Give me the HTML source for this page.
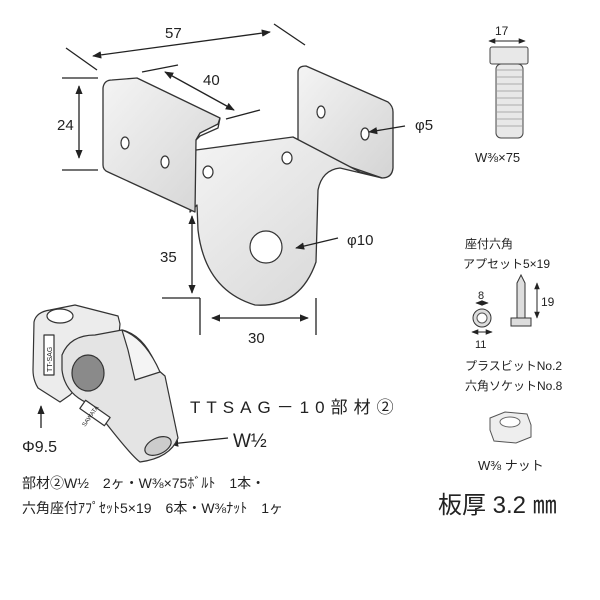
<!DOCTYPE html>
<html><head><meta charset="utf-8"><style>
html,body{margin:0;padding:0;background:#fff;}
svg{display:block}
text{font-family:"Liberation Sans","Noto Sans CJK JP",sans-serif;fill:#222}
</style></head><body>
<svg width="600" height="600" viewBox="0 0 600 600" xmlns="http://www.w3.org/2000/svg">
<defs>
<marker id="a" viewBox="0 0 10 10" refX="9" refY="5" markerWidth="7" markerHeight="7" orient="auto-start-reverse"><path d="M0,1 L10,5 L0,9 z" fill="#222"/></marker>
<linearGradient id="g" x1="0" y1="0" x2="1" y2="1"><stop offset="0" stop-color="#f4f4f4"/><stop offset="1" stop-color="#d4d4d4"/></linearGradient>
</defs>
<g stroke="#333" stroke-width="1.3" fill="url(#g)" stroke-linejoin="round">
<!-- right flange -->
<path d="M298,72 Q298,66 306,66 L388,102 Q393,106 393,112 L393,168 Q392,178 382,178 L330,160 L298,140 Z"/>
<!-- web + tab -->
<path d="M196,150 L293,137 L360,172 L382,178 L340,168 Q322,170 318,190 L316,262 Q300,308 255,305 Q205,290 198,230 L197,205 L190,212 Z"/>
<!-- left plate -->
<path d="M103,88 Q104,80 112,80 L137,78 L220,118 L218,124 L200,133 L196,140 L195,212 L108,172 Q103,170 103,165 Z"/>
<path d="M220,118 L218,128 L200,136 L196,140" fill="none"/>
</g>
<g fill="#fff" stroke="#333" stroke-width="1.2">
<ellipse cx="125" cy="143" rx="4" ry="6"/><ellipse cx="165" cy="162" rx="4" ry="6"/>
<ellipse cx="208" cy="172" rx="5" ry="6"/><ellipse cx="287" cy="158" rx="5" ry="6"/>
<ellipse cx="321" cy="112" rx="4" ry="6"/><ellipse cx="365" cy="134" rx="4" ry="6"/>
<circle cx="266" cy="247" r="16"/>
</g>
<!-- dimensions -->
<g stroke="#222" stroke-width="1.3" fill="none">
<line x1="93" y1="56" x2="270" y2="32" marker-start="url(#a)" marker-end="url(#a)"/>
<line x1="66" y1="48" x2="97" y2="70"/><line x1="274" y1="24" x2="305" y2="45"/>
<line x1="79" y1="86" x2="79" y2="158" marker-start="url(#a)" marker-end="url(#a)"/>
<line x1="62" y1="78" x2="98" y2="78"/><line x1="62" y1="170" x2="98" y2="170"/>
<line x1="165" y1="72" x2="234" y2="110" marker-start="url(#a)" marker-end="url(#a)"/>
<line x1="142" y1="72" x2="178" y2="65"/><line x1="226" y1="119" x2="260" y2="110"/>
<line x1="192" y1="216" x2="192" y2="293" marker-start="url(#a)" marker-end="url(#a)"/>
<line x1="162" y1="298" x2="200" y2="298"/>
<line x1="212" y1="318" x2="308" y2="318" marker-start="url(#a)" marker-end="url(#a)"/>
<line x1="200" y1="298" x2="200" y2="335"/><line x1="316" y1="298" x2="316" y2="335"/>
<line x1="338" y1="238" x2="296" y2="248" marker-end="url(#a)"/>
<line x1="405" y1="126" x2="369" y2="132" marker-end="url(#a)"/>
<line x1="41" y1="428" x2="41" y2="406" marker-end="url(#a)"/>
<line x1="228" y1="438" x2="170" y2="444" marker-end="url(#a)"/>
</g>
<g font-size="15">
<text x="165" y="38">57</text><text x="57" y="130">24</text><text x="203" y="85">40</text>
<text x="160" y="262">35</text><text x="248" y="343">30</text>
<text x="347" y="245">φ10</text><text x="415" y="130">φ5</text>
</g>
<!-- connector -->
<g stroke="#333" stroke-width="1.2" stroke-linejoin="round">
<path d="M34,322 Q36,312 50,310 L75,305 L118,316 L120,324 L118,345 L70,395 L60,402 L38,388 Q33,380 33,370 Z" fill="#ececec"/>
<ellipse cx="60" cy="316" rx="13" ry="7" fill="#fff"/>
<path d="M62,355 Q70,335 95,335 L122,330 Q145,335 158,370 L165,376 L178,438 Q170,458 140,462 Q130,455 92,405 Q65,395 62,370 Z" fill="#e4e4e4"/>
<path d="M122,330 Q145,338 160,372 L135,380 L128,350 Z" fill="#f4f4f4"/>
<ellipse cx="88" cy="373" rx="16" ry="18" fill="#8a8a8a"/>
<ellipse cx="158" cy="446" rx="14" ry="8" fill="#ccc" transform="rotate(-25 158 446)"/>
<rect x="44" y="335" width="10" height="40" fill="#fff"/>
<rect x="90" y="398" width="10" height="30" fill="#fff" transform="rotate(-55 95 413)"/>
</g>
<text x="0" y="0" font-size="7" transform="translate(52,372) rotate(-90)">TT-SAG</text>
<text x="0" y="0" font-size="6" transform="translate(85,427) rotate(-55)">SAWATA</text>
<text x="190" y="413" font-size="17" letter-spacing="6">TTSAG－10部材②</text>
<text x="233" y="447" font-size="19">W½</text>
<text x="22" y="452" font-size="16">Φ9.5</text>
<text x="22" y="488" font-size="14">部材②W½　2ヶ・W⅜×75ﾎﾞﾙﾄ　1本・</text>
<text x="22" y="513" font-size="14">六角座付ｱﾌﾟｾｯﾄ5×19　6本・W⅜ﾅｯﾄ　1ヶ</text>
<!-- bolt -->
<g stroke="#444" stroke-width="1" fill="#e8e8e8">
<rect x="490" y="47" width="38" height="17" rx="2"/>
<rect x="496" y="64" width="27" height="74" rx="5"/>
</g>
<g stroke="#999" stroke-width="0.8">
<line x1="497" y1="70" x2="522" y2="70"/><line x1="497" y1="77" x2="522" y2="77"/><line x1="497" y1="84" x2="522" y2="84"/><line x1="497" y1="91" x2="522" y2="91"/><line x1="497" y1="98" x2="522" y2="98"/><line x1="497" y1="105" x2="522" y2="105"/><line x1="497" y1="112" x2="522" y2="112"/><line x1="497" y1="119" x2="522" y2="119"/><line x1="497" y1="126" x2="522" y2="126"/>
</g>
<line x1="489" y1="41" x2="525" y2="41" stroke="#222" marker-start="url(#a)" marker-end="url(#a)"/>
<text x="495" y="35" font-size="12">17</text>
<text x="475" y="162" font-size="13">W⅜×75</text>
<text x="465" y="248" font-size="12">座付六角</text>
<text x="463" y="268" font-size="12">アプセット5×19</text>
<!-- screw -->
<circle cx="482" cy="318" r="9" fill="#ddd" stroke="#333"/>
<circle cx="482" cy="318" r="5" fill="#fff" stroke="#555"/>
<line x1="476" y1="303" x2="488" y2="303" stroke="#222" marker-start="url(#a)" marker-end="url(#a)"/>
<line x1="472" y1="332" x2="492" y2="332" stroke="#222" marker-start="url(#a)" marker-end="url(#a)"/>
<text x="478" y="299" font-size="11">8</text><text x="475" y="348" font-size="11">11</text>
<path d="M517,283 L521,275 L525,283 L525,318 L517,318 Z" fill="#ddd" stroke="#333"/>
<rect x="511" y="318" width="20" height="8" fill="#ddd" stroke="#333"/>
<line x1="537" y1="283" x2="537" y2="318" stroke="#222" marker-start="url(#a)" marker-end="url(#a)"/>
<text x="541" y="306" font-size="12">19</text>
<text x="465" y="370" font-size="12">プラスビットNo.2</text>
<text x="465" y="390" font-size="12">六角ソケットNo.8</text>
<!-- nut -->
<path d="M490,418 L505,412 L527,414 L531,425 L531,437 L516,443 L494,441 L490,430 Z" fill="#eee" stroke="#555"/>
<ellipse cx="510" cy="422" rx="10" ry="5" fill="#fff" stroke="#666"/>
<text x="478" y="470" font-size="13">W⅜ ナット</text>
<text x="438" y="513" font-size="24">板厚 3.2 ㎜</text>
</svg>
</body></html>
